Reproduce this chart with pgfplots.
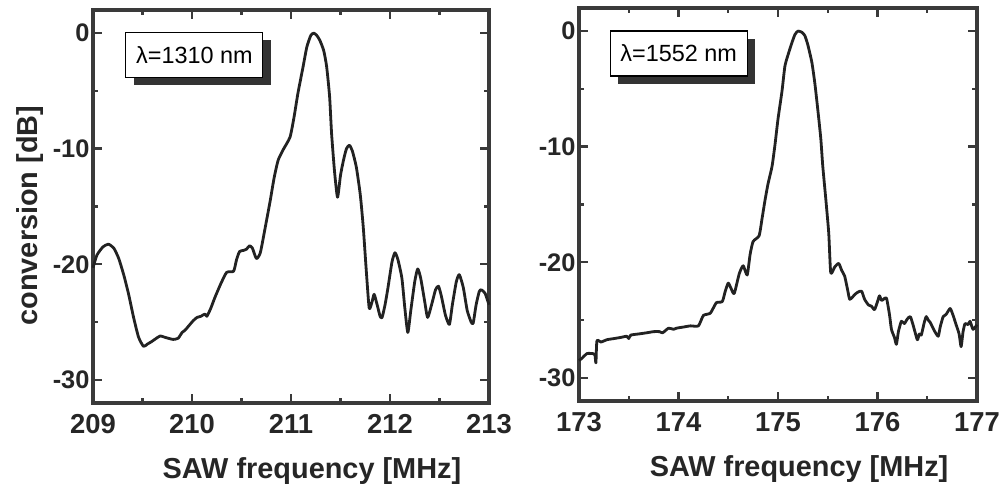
\documentclass[border=0pt]{standalone}
\usepackage{fontspec}
\setmainfont{Liberation Sans}
\usepackage{pgfplots}
\pgfplotsset{compat=1.18}
\usetikzlibrary{shadows}
\definecolor{frame}{HTML}{3a3a3a}
\definecolor{curve}{HTML}{222222}
\definecolor{shade}{HTML}{333333}
\tikzset{
 boxnode/.style={draw=black, line width=1.2bp, fill=white, minimum width=137bp, minimum height=45bp,
   inner sep=0pt, font=\fontsize{23.5}{23.5}\selectfont,
   general shadow={fill=shade, shadow xshift=8bp, shadow yshift=-8bp}},
}
\pgfplotsset{
 myaxis/.style={
  scale only axis, height=393bp,
  axis line style={draw=frame, line width=3.2bp},
  every tick/.style={draw=frame, line width=2.4bp},
  major tick length=9bp, minor tick length=5bp,
  tick align=inside, xtick pos=both, ytick pos=both,
  ymin=-32, ymax=2,
  ytick={-30,-20,-10,0}, yticklabels={-30,-20,-10,0},
  minor ytick={-25,-15,-5},
  xticklabel style={font=\fontsize{27.5}{27.5}\selectfont\bfseries, text=black!85, yshift=-8bp},
  yticklabel style={font=\fontsize{25.5}{25.5}\selectfont\bfseries, text=black!85},
  label style={font=\fontsize{29}{29}\selectfont\bfseries, text=black!85},
  xlabel={SAW frequency [MHz]},
  xlabel style={at={(axis description cs:0.553,-0.191)}, anchor=base},
  clip=false,
 },
 mycurve/.style={curve, line width=2.8bp, line join=round, smooth, tension=0.35},
}
\begin{document}
\begin{tikzpicture}[x=1bp,y=1bp]
\path[use as bounding box] (0,0) rectangle (1003,486);
\begin{axis}[myaxis, width=396bp, at={(93bp,83bp)}, anchor=south west,
  xmin=209, xmax=213, xtick={209,210,211,212,213}, xticklabels={209,210,211,212,213},
  minor xtick={209.5,210.5,211.5,212.5},
  ylabel={conversion [dB]},
  ylabel style={at={(axis description cs:-0.140,0.477)}, anchor=base},
]
\addplot[mycurve] coordinates {
(209.00,-20.3) (209.04,-19.2) (209.10,-18.5) (209.155,-18.26) (209.21,-18.6) (209.26,-19.5) (209.31,-20.9) (209.36,-22.6) (209.41,-24.6) (209.46,-26.3) (209.51,-27.1) (209.55,-26.9) (209.59,-26.7) (209.64,-26.4) (209.68,-26.2) (209.72,-26.3) (209.76,-26.4) (209.81,-26.5) (209.86,-26.4) (209.90,-25.9) (209.93,-25.7) (209.97,-25.3) (210.01,-24.9) (210.05,-24.6) (210.09,-24.5) (210.13,-24.3) (210.15,-24.5) (210.19,-23.8) (210.23,-22.9) (210.29,-21.7) (210.35,-20.7) (210.42,-20.6) (210.45,-19.6) (210.48,-18.9) (210.52,-18.8) (210.55,-18.7) (210.58,-18.4) (210.61,-18.6) (210.65,-19.5) (210.69,-19.0) (210.74,-16.8) (210.79,-14.5) (210.83,-12.5) (210.87,-11.0) (210.92,-10.1) (210.99,-9.0) (211.03,-7.3) (211.07,-5.2) (211.12,-3.0) (211.16,-1.2) (211.20,-0.2) (211.23,0) (211.26,-0.2) (211.29,-0.6) (211.33,-1.5) (211.36,-2.9) (211.39,-5.5) (211.41,-8.7) (211.44,-12.0) (211.47,-14.2) (211.50,-12.3) (211.53,-11.0) (211.56,-10.0) (211.59,-9.7) (211.62,-10.2) (211.66,-11.6) (211.70,-14.0) (211.73,-16.8) (211.76,-20.5) (211.79,-23.8) (211.82,-23.2) (211.84,-22.6) (211.87,-23.5) (211.90,-24.5) (211.92,-24.6) (211.95,-23.5) (211.98,-22.0) (212.02,-19.8) (212.05,-19.0) (212.08,-19.6) (212.12,-21.2) (212.15,-23.8) (212.18,-25.9) (212.21,-24.0) (212.25,-21.5) (212.28,-20.4) (212.31,-21.2) (212.35,-23.2) (212.38,-24.6) (212.42,-23.5) (212.46,-22.2) (212.49,-21.9) (212.52,-22.8) (212.56,-24.4) (212.60,-25.2) (212.63,-23.5) (212.67,-21.5) (212.70,-20.9) (212.74,-22.0) (212.78,-24.0) (212.82,-25.0) (212.84,-25.1) (212.87,-23.5) (212.90,-22.4) (212.92,-22.2) (212.96,-22.5) (213.00,-23.5)
};
\node[boxnode] at (axis description cs:0.256,0.8855) {λ=1310 nm};
\end{axis}
\begin{axis}[myaxis, width=398bp, at={(579bp,85bp)}, anchor=south west,
  xmin=173, xmax=177, xtick={173,174,175,176,177}, xticklabels={173,174,175,176,177},
  minor xtick={173.5,174.5,175.5,176.5},
]
\addplot[mycurve] coordinates {
(173.00,-28.5) (173.03,-28.3) (173.08,-27.9) (173.14,-27.9) (173.16,-28.0) (173.17,-28.7) (173.18,-26.8) (173.22,-26.9) (173.28,-26.7) (173.35,-26.6) (173.42,-26.5) (173.48,-26.4) (173.50,-26.6) (173.52,-26.3) (173.60,-26.2) (173.68,-26.1) (173.75,-26.0) (173.81,-26.0) (173.84,-26.1) (173.90,-25.7) (173.95,-25.8) (173.98,-25.7) (174.05,-25.6) (174.12,-25.5) (174.20,-25.5) (174.25,-24.6) (174.32,-24.4) (174.38,-23.5) (174.44,-23.4) (174.47,-22.5) (174.50,-21.8) (174.53,-22.3) (174.56,-22.7) (174.61,-21.0) (174.65,-20.3) (174.69,-21.1) (174.72,-19.3) (174.75,-18.2) (174.81,-17.7) (174.84,-16.2) (174.87,-14.6) (174.90,-13.2) (174.94,-11.7) (174.97,-9.8) (175.00,-7.6) (175.04,-5.2) (175.07,-3.0) (175.11,-1.8) (175.14,-1.0) (175.17,-0.3) (175.20,0) (175.24,-0.1) (175.27,-0.4) (175.30,-1.2) (175.34,-2.7) (175.37,-4.5) (175.40,-6.8) (175.43,-9.3) (175.45,-11.7) (175.48,-14.5) (175.51,-17.5) (175.53,-20.9) (175.57,-20.4) (175.61,-20.1) (175.64,-20.7) (175.67,-21.2) (175.70,-22.4) (175.72,-23.2) (175.75,-23.0) (175.77,-22.8) (175.80,-22.6) (175.84,-22.5) (175.87,-23.2) (175.91,-23.7) (175.94,-23.8) (175.97,-24.1) (176.00,-23.4) (176.02,-22.9) (176.04,-23.3) (176.06,-23.2) (176.09,-23.1) (176.12,-24.5) (176.14,-25.8) (176.17,-26.5) (176.19,-27.1) (176.21,-26.0) (176.24,-25.1) (176.27,-25.3) (176.30,-24.9) (176.33,-24.7) (176.36,-25.5) (176.40,-26.7) (176.42,-26.2) (176.44,-26.3) (176.47,-25.2) (176.49,-24.7) (176.51,-25.0) (176.53,-25.2) (176.57,-25.9) (176.61,-26.4) (176.63,-25.6) (176.66,-24.7) (176.69,-24.5) (176.73,-24.0) (176.76,-24.6) (176.79,-25.4) (176.82,-26.2) (176.84,-27.3) (176.86,-26.0) (176.88,-25.3) (176.91,-25.4) (176.93,-25.1) (176.96,-25.8) (177.00,-25.4)
};
\node[boxnode] at (axis description cs:0.2505,0.884) {λ=1552 nm};
\end{axis}
\end{tikzpicture}
\end{document}
